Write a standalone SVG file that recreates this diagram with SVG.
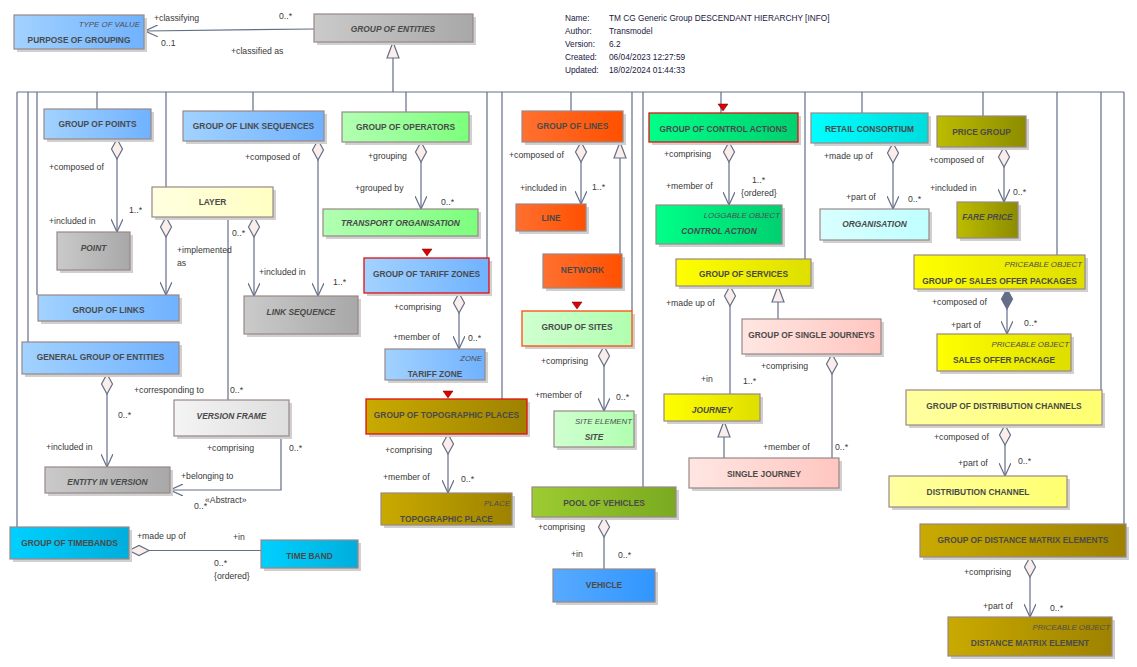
<svg xmlns="http://www.w3.org/2000/svg" xmlns:xlink="http://www.w3.org/1999/xlink" width="1137" height="667" viewBox="0 0 1137 667">
<style>
.bx{stroke:#9a8787;stroke-width:1.2}
.rb{stroke:#e01010;stroke-width:1.3}
.sh{fill:#d0d0d0}
.nm{font-family:"Liberation Sans",Arial,sans-serif;font-size:8.4px;font-weight:bold;fill:#4a4a4a;text-anchor:middle}
.it{font-style:italic}
.st{font-family:"Liberation Sans",Arial,sans-serif;font-size:7.9px;font-style:italic;fill:#4e4e4e;text-anchor:end}
.lb{font-family:"Liberation Sans",Arial,sans-serif;font-size:8.7px;fill:#383838}
.inf{font-family:"Liberation Sans",Arial,sans-serif;font-size:8.3px;fill:#202040}
.ln{stroke:#646e87;stroke-width:1.2;fill:none}
.dia{fill:#fbeeea;stroke:#646e87;stroke-width:1.2}
.fd{fill:#646e87;stroke:#646e87;stroke-width:1.2}
.red{fill:#e00000;stroke:#600;stroke-width:0.5}
</style>
<defs>
<linearGradient id="gBlue" x1="0" x2="1"><stop offset="0" stop-color="#a2d2ff"/><stop offset="1" stop-color="#70b2ff"/></linearGradient>
<linearGradient id="gGray" x1="0" x2="1"><stop offset="0" stop-color="#cacaca"/><stop offset="1" stop-color="#a8a8a8"/></linearGradient>
<linearGradient id="gGreen" x1="0" x2="1"><stop offset="0" stop-color="#b2ffb2"/><stop offset="1" stop-color="#7cff7c"/></linearGradient>
<linearGradient id="gLY" x1="0" x2="1"><stop offset="0" stop-color="#ffffe0"/><stop offset="1" stop-color="#ffffc2"/></linearGradient>
<linearGradient id="gLG" x1="0" x2="1"><stop offset="0" stop-color="#f4f4f4"/><stop offset="1" stop-color="#dedede"/></linearGradient>
<linearGradient id="gCyan" x1="0" x2="1"><stop offset="0" stop-color="#00d0ff"/><stop offset="1" stop-color="#00aedc"/></linearGradient>
<linearGradient id="gGold" x1="0" x2="1"><stop offset="0" stop-color="#c9aa00"/><stop offset="1" stop-color="#9e8200"/></linearGradient>
<linearGradient id="gOr" x1="0" x2="1"><stop offset="0" stop-color="#ff7030"/><stop offset="1" stop-color="#ff5000"/></linearGradient>
<linearGradient id="gSite" x1="0" x2="1"><stop offset="0" stop-color="#d0ffd0"/><stop offset="1" stop-color="#b0ffb0"/></linearGradient>
<linearGradient id="gPool" x1="0" x2="1"><stop offset="0" stop-color="#9ccc30"/><stop offset="1" stop-color="#7aaa20"/></linearGradient>
<linearGradient id="gVeh" x1="0" x2="1"><stop offset="0" stop-color="#58aaff"/><stop offset="1" stop-color="#3096ff"/></linearGradient>
<linearGradient id="gSpr" x1="0" x2="1"><stop offset="0" stop-color="#00ff88"/><stop offset="1" stop-color="#00d070"/></linearGradient>
<linearGradient id="gAqua" x1="0" x2="1"><stop offset="0" stop-color="#00ffff"/><stop offset="1" stop-color="#00dcdc"/></linearGradient>
<linearGradient id="gLC" x1="0" x2="1"><stop offset="0" stop-color="#d8ffff"/><stop offset="1" stop-color="#c0ffff"/></linearGradient>
<linearGradient id="gOlive" x1="0" x2="1"><stop offset="0" stop-color="#bcbc00"/><stop offset="1" stop-color="#8c8c00"/></linearGradient>
<linearGradient id="gYel" x1="0" x2="1"><stop offset="0" stop-color="#ffff00"/><stop offset="1" stop-color="#dede00"/></linearGradient>
<linearGradient id="gPY" x1="0" x2="1"><stop offset="0" stop-color="#ffffa0"/><stop offset="1" stop-color="#ffff70"/></linearGradient>
<linearGradient id="gPink" x1="0" x2="1"><stop offset="0" stop-color="#ffe6e2"/><stop offset="1" stop-color="#ffc6c0"/></linearGradient>
<marker id="arr" viewBox="0 0 14 12" refX="13" refY="6" markerWidth="14" markerHeight="12" markerUnits="userSpaceOnUse" orient="auto"><path d="M0,0 L13,6 L0,12" fill="none" stroke="#646e87" stroke-width="1.2"/></marker>
<path id="dmd" d="M0,0 L5.5,10 L0,20 L-5.5,10 Z"/>
<path id="gen" d="M0,0 L6,16 L-6,16 Z"/>
<path id="rt" d="M-5,0 L5,0 L0,7 Z"/>
</defs>
<rect width="1137" height="667" fill="#ffffff"/>

<g id="info">
<text class="inf" x="565" y="21">Name:</text><text class="inf" x="609" y="21">TM CG Generic Group DESCENDANT HIERARCHY [INFO]</text>
<text class="inf" x="565" y="34">Author:</text><text class="inf" x="609" y="34">Transmodel</text>
<text class="inf" x="565" y="47">Version:</text><text class="inf" x="609" y="47">6.2</text>
<text class="inf" x="565" y="60">Created:</text><text class="inf" x="609" y="60">06/04/2023 12:27:59</text>
<text class="inf" x="565" y="73">Updated:</text><text class="inf" x="609" y="73">18/02/2024 01:44:33</text>
</g>

<g id="connectors">
<path class="ln" d="M17,92 H1124"/>
<path class="ln" d="M17,92 V527 M28,92 V342 M37,92 V295 M97,92 V109 M166,92 V187 M253,92 V111 M393,58 V92 M406,92 V112 M487,92 V258 M502,92 V399 M571,92 V111 M632,92 V311 M643,92 V487 M721,92 V113 M805,92 V259 M862,92 V113 M983,92 V116 M1057,92 V255 M1101,92 V390 M1124,92 V524"/>
<use href="#gen" x="393" y="42" class="dia"/>
<path class="ln" d="M620,158 V254"/><use href="#gen" x="620" y="142" class="dia"/>
<path class="ln" d="M778,302 V319"/><use href="#gen" x="778" y="286" class="dia"/>
<path class="ln" d="M724,437 V458"/><use href="#gen" x="724" y="421" class="dia"/>
<path class="ln" d="M314,29 L145,31" marker-end="url(#arr)"/>
<path class="ln" d="M117,159 V232" marker-end="url(#arr)"/><use href="#dmd" x="117" y="139" class="dia"/>
<path class="ln" d="M318,160 V296" marker-end="url(#arr)"/><use href="#dmd" x="318" y="140" class="dia"/>
<path class="ln" d="M421,162 V209" marker-end="url(#arr)"/><use href="#dmd" x="421" y="142" class="dia"/>
<path class="ln" d="M166,237 V295" marker-end="url(#arr)"/><use href="#dmd" x="166" y="217" class="dia"/>
<path class="ln" d="M254,237 V296" marker-end="url(#arr)"/><use href="#dmd" x="254" y="217" class="dia"/>
<path class="ln" d="M228,217 V400"/>
<path class="ln" d="M107,394 V467" marker-end="url(#arr)"/><use href="#dmd" x="107" y="374" class="dia"/>
<path class="ln" d="M281,436 V490 H170" marker-end="url(#arr)"/>
<path class="ln" d="M149,550.5 H261"/><path class="dia" d="M129,550.5 L139,545.5 L149,550.5 L139,555.5 Z"/>
<path class="ln" d="M459,313 V349" marker-end="url(#arr)"/><use href="#dmd" x="459" y="293" class="dia"/>
<path class="ln" d="M448,454 V493" marker-end="url(#arr)"/><use href="#dmd" x="448" y="434" class="dia"/>
<path class="ln" d="M581,162 V204" marker-end="url(#arr)"/><use href="#dmd" x="581" y="142" class="dia"/>
<path class="ln" d="M604,366 V411" marker-end="url(#arr)"/><use href="#dmd" x="604" y="346" class="dia"/>
<path class="ln" d="M604,537 V569"/><use href="#dmd" x="604" y="517" class="dia"/>
<path class="ln" d="M729,162 V205" marker-end="url(#arr)"/><use href="#dmd" x="729" y="142" class="dia"/>
<path class="ln" d="M893,163 V209" marker-end="url(#arr)"/><use href="#dmd" x="893" y="143" class="dia"/>
<path class="ln" d="M1004,167 V202" marker-end="url(#arr)"/><use href="#dmd" x="1004" y="147" class="dia"/>
<path class="ln" d="M1007,309 V334" marker-end="url(#arr)"/><use href="#dmd" x="1007" y="289" class="fd"/>
<path class="ln" d="M1005,445 V476" marker-end="url(#arr)"/><use href="#dmd" x="1005" y="425" class="dia"/>
<path class="ln" d="M1030,577 V617" marker-end="url(#arr)"/><use href="#dmd" x="1030" y="557" class="dia"/>
<path class="ln" d="M730,306 V394"/><use href="#dmd" x="730" y="286" class="dia"/>
<path class="ln" d="M832,374 V458"/><use href="#dmd" x="832" y="354" class="dia"/>
<use href="#rt" x="723" y="104" class="red"/>
<use href="#rt" x="427" y="249" class="red"/>
<use href="#rt" x="448" y="391" class="red"/>
<use href="#rt" x="577" y="302" class="red"/>
</g>

<g id="labels">
<text class="lb" x="154" y="21">+classifying</text>
<text class="lb" x="161" y="46">0..1</text>
<text class="lb" x="279" y="19">0..*</text>
<text class="lb" x="231" y="54">+classified as</text>
<text class="lb" x="49" y="170">+composed of</text>
<text class="lb" x="49" y="224">+included in</text>
<text class="lb" x="129" y="213">1..*</text>
<text class="lb" x="245" y="160">+composed of</text>
<text class="lb" x="368" y="159">+grouping</text>
<text class="lb" x="355" y="191">+grouped by</text>
<text class="lb" x="441" y="205">0..*</text>
<text class="lb" x="232" y="236">0..*</text>
<text class="lb" x="177" y="253">+implemented</text>
<text class="lb" x="177" y="266">as</text>
<text class="lb" x="259" y="275">+included in</text>
<text class="lb" x="333" y="285">1..*</text>
<text class="lb" x="134" y="393">+corresponding to</text>
<text class="lb" x="230" y="393">0..*</text>
<text class="lb" x="118" y="418">0..*</text>
<text class="lb" x="46" y="450">+included in</text>
<text class="lb" x="207" y="451">+comprising</text>
<text class="lb" x="289" y="451">0..*</text>
<text class="lb" x="181" y="479">+belonging to</text>
<text class="lb" x="205" y="503">«Abstract»</text>
<text class="lb" x="194" y="509">0..*</text>
<text class="lb" x="137" y="539">+made up of</text>
<text class="lb" x="233" y="540">+in</text>
<text class="lb" x="214" y="566">0..*</text>
<text class="lb" x="214" y="579">{ordered}</text>
<text class="lb" x="394" y="310">+comprising</text>
<text class="lb" x="393" y="340">+member of</text>
<text class="lb" x="468" y="341">0..*</text>
<text class="lb" x="385" y="453">+comprising</text>
<text class="lb" x="383" y="480">+member of</text>
<text class="lb" x="461" y="482">0..*</text>
<text class="lb" x="509" y="158">+composed of</text>
<text class="lb" x="520" y="191">+included in</text>
<text class="lb" x="592" y="190">1..*</text>
<text class="lb" x="541" y="364">+comprising</text>
<text class="lb" x="535" y="398">+member of</text>
<text class="lb" x="616" y="400">0..*</text>
<text class="lb" x="538" y="530">+comprising</text>
<text class="lb" x="571" y="557">+in</text>
<text class="lb" x="618" y="558">0..*</text>
<text class="lb" x="664" y="157">+comprising</text>
<text class="lb" x="666" y="189">+member of</text>
<text class="lb" x="752" y="183">1..*</text>
<text class="lb" x="741" y="196">{ordered}</text>
<text class="lb" x="666" y="306">+made up of</text>
<text class="lb" x="701" y="382">+in</text>
<text class="lb" x="743" y="384">1..*</text>
<text class="lb" x="761" y="369">+comprising</text>
<text class="lb" x="763" y="450">+member of</text>
<text class="lb" x="835" y="450">0..*</text>
<text class="lb" x="824" y="159">+made up of</text>
<text class="lb" x="846" y="200">+part of</text>
<text class="lb" x="908" y="202">0..*</text>
<text class="lb" x="929" y="163">+composed of</text>
<text class="lb" x="930" y="191">+included in</text>
<text class="lb" x="1013" y="195">0..*</text>
<text class="lb" x="932" y="305">+composed of</text>
<text class="lb" x="951" y="328">+part of</text>
<text class="lb" x="1024" y="326">0..*</text>
<text class="lb" x="934" y="440">+composed of</text>
<text class="lb" x="958" y="466">+part of</text>
<text class="lb" x="1018" y="464">0..*</text>
<text class="lb" x="964" y="575">+comprising</text>
<text class="lb" x="983" y="609">+part of</text>
<text class="lb" x="1050" y="611">0..*</text>
</g>

<g id="n-purpose"><rect class="sh" x="17" y="18" width="130" height="34"/><rect class="bx" x="14" y="15" width="130" height="34" fill="url(#gBlue)"/><text class="st" x="140" y="27">TYPE OF VALUE</text><text class="nm" x="79" y="43">PURPOSE OF GROUPING</text></g>
<g id="n-group-of-entities"><rect class="sh" x="317" y="17" width="159" height="28"/><rect class="bx" x="314" y="14" width="159" height="28" fill="url(#gGray)"/><text class="nm it" x="393" y="32">GROUP OF ENTITIES</text></g>
<g id="n-group-of-points"><rect class="sh" x="47" y="112" width="107" height="30"/><rect class="bx" x="44" y="109" width="107" height="30" fill="url(#gBlue)"/><text class="nm" x="97.5" y="127">GROUP OF POINTS</text></g>
<g id="n-group-of-link-sequences"><rect class="sh" x="186" y="114" width="141" height="30"/><rect class="bx" x="183" y="111" width="141" height="30" fill="url(#gBlue)"/><text class="nm" x="253.5" y="129">GROUP OF LINK SEQUENCES</text></g>
<g id="n-group-of-operators"><rect class="sh" x="345" y="115" width="127" height="30"/><rect class="bx" x="342" y="112" width="127" height="30" fill="url(#gGreen)"/><text class="nm" x="405.5" y="130">GROUP OF OPERATORS</text></g>
<g id="n-transport-organisation"><rect class="sh" x="326" y="212" width="155" height="27"/><rect class="bx" x="323" y="209" width="155" height="27" fill="url(#gGreen)"/><text class="nm it" x="400.5" y="226">TRANSPORT ORGANISATION</text></g>
<g id="n-layer"><rect class="sh" x="155" y="190" width="121" height="30"/><rect class="bx" x="152" y="187" width="121" height="30" fill="url(#gLY)"/><text class="nm" x="212.5" y="205">LAYER</text></g>
<g id="n-point"><rect class="sh" x="60" y="235" width="73" height="38"/><rect class="bx" x="57" y="232" width="73" height="38" fill="url(#gGray)"/><text class="nm it" x="93.5" y="251">POINT</text></g>
<g id="n-group-of-links"><rect class="sh" x="41" y="298" width="141" height="26"/><rect class="bx" x="38" y="295" width="141" height="26" fill="url(#gBlue)"/><text class="nm" x="108.5" y="313">GROUP OF LINKS</text></g>
<g id="n-link-sequence"><rect class="sh" x="247" y="299" width="114" height="38"/><rect class="bx" x="244" y="296" width="114" height="38" fill="url(#gGray)"/><text class="nm it" x="301" y="315">LINK SEQUENCE</text></g>
<g id="n-general-group-of-entities"><rect class="sh" x="25" y="345" width="157" height="32"/><rect class="bx" x="22" y="342" width="157" height="32" fill="url(#gBlue)"/><text class="nm" x="100.5" y="360">GENERAL GROUP OF ENTITIES</text></g>
<g id="n-version-frame"><rect class="sh" x="177" y="403" width="115" height="36"/><rect class="bx" x="174" y="400" width="115" height="36" fill="url(#gLG)"/><text class="nm it" x="231.5" y="419">VERSION FRAME</text></g>
<g id="n-entity-in-version"><rect class="sh" x="48" y="470" width="125" height="26"/><rect class="bx" x="45" y="467" width="125" height="26" fill="url(#gGray)"/><text class="nm it" x="107.5" y="485">ENTITY IN VERSION</text></g>
<g id="n-group-of-timebands"><rect class="sh" x="13" y="530" width="119" height="32"/><rect class="bx" x="10" y="527" width="119" height="32" fill="url(#gCyan)"/><text class="nm" x="69.5" y="546">GROUP OF TIMEBANDS</text></g>
<g id="n-time-band"><rect class="sh" x="264" y="543" width="97" height="28"/><rect class="bx" x="261" y="540" width="97" height="28" fill="url(#gCyan)"/><text class="nm" x="309.5" y="559">TIME BAND</text></g>
<g id="n-group-of-tariff-zones"><rect class="sh" x="367" y="261" width="125" height="35"/><rect class="rb" x="364" y="258" width="125" height="35" fill="url(#gBlue)"/><text class="nm" x="426.5" y="277">GROUP OF TARIFF ZONES</text></g>
<g id="n-tariff-zone"><rect class="sh" x="388" y="352" width="100" height="31"/><rect class="bx" x="385" y="349" width="100" height="31" fill="url(#gBlue)"/><text class="st" x="482" y="361">ZONE</text><text class="nm" x="435" y="377">TARIFF ZONE</text></g>
<g id="n-group-of-topographic-places"><rect class="sh" x="369" y="402" width="161" height="35"/><rect class="rb" x="366" y="399" width="161" height="35" fill="url(#gGold)"/><text class="nm" x="446.5" y="418">GROUP OF TOPOGRAPHIC PLACES</text></g>
<g id="n-topographic-place"><rect class="sh" x="384" y="496" width="131" height="32"/><rect class="bx" x="381" y="493" width="131" height="32" fill="url(#gGold)"/><text class="st" x="510" y="506">PLACE</text><text class="nm" x="446.5" y="522">TOPOGRAPHIC PLACE</text></g>
<g id="n-group-of-lines"><rect class="sh" x="525" y="114" width="101" height="31"/><rect class="bx" x="522" y="111" width="101" height="31" fill="url(#gOr)"/><text class="nm" x="572.5" y="129">GROUP OF LINES</text></g>
<g id="n-line"><rect class="sh" x="519" y="207" width="70" height="27"/><rect class="bx" x="516" y="204" width="70" height="27" fill="url(#gOr)"/><text class="nm" x="551" y="221">LINE</text></g>
<g id="n-network"><rect class="sh" x="546" y="257" width="79" height="34"/><rect class="bx" x="543" y="254" width="79" height="34" fill="url(#gOr)"/><text class="nm" x="582.5" y="273">NETWORK</text></g>
<g id="n-group-of-sites"><rect class="sh" x="525" y="314" width="110" height="35"/><rect x="522" y="311" width="110" height="35" fill="url(#gSite)" stroke="#ff4a10" stroke-width="1.3"/><text class="nm" x="577" y="330">GROUP OF SITES</text></g>
<g id="n-site"><rect class="sh" x="557" y="414" width="80" height="36"/><rect class="bx" x="554" y="411" width="80" height="36" fill="url(#gSite)"/><text class="st" x="632" y="424">SITE ELEMENT</text><text class="nm it" x="594" y="440">SITE</text></g>
<g id="n-pool-of-vehicles"><rect class="sh" x="535" y="490" width="144" height="30"/><rect class="bx" x="532" y="487" width="144" height="30" fill="url(#gPool)"/><text class="nm" x="604" y="506">POOL OF VEHICLES</text></g>
<g id="n-vehicle"><rect class="sh" x="556" y="572" width="102" height="33"/><rect class="bx" x="553" y="569" width="102" height="33" fill="url(#gVeh)"/><text class="nm" x="604" y="588">VEHICLE</text></g>
<g id="n-group-of-control-actions"><rect class="sh" x="652" y="116" width="149" height="29"/><rect class="rb" x="649" y="113" width="149" height="29" fill="url(#gSpr)"/><text class="nm" x="723.5" y="132">GROUP OF CONTROL ACTIONS</text></g>
<g id="n-control-action"><rect class="sh" x="659" y="208" width="126" height="39"/><rect class="bx" x="656" y="205" width="126" height="39" fill="url(#gSpr)"/><text class="st" x="780" y="218">LOGGABLE OBJECT</text><text class="nm it" x="719" y="234">CONTROL ACTION</text></g>
<g id="n-retail-consortium"><rect class="sh" x="814" y="116" width="117" height="30"/><rect class="bx" x="811" y="113" width="117" height="30" fill="url(#gAqua)"/><text class="nm" x="869.5" y="131.5">RETAIL CONSORTIUM</text></g>
<g id="n-organisation"><rect class="sh" x="823" y="212" width="109" height="31"/><rect class="bx" x="820" y="209" width="109" height="31" fill="url(#gLC)"/><text class="nm it" x="874.5" y="227">ORGANISATION</text></g>
<g id="n-price-group"><rect class="sh" x="940" y="119" width="89" height="31"/><rect class="bx" x="937" y="116" width="89" height="31" fill="url(#gOlive)"/><text class="nm" x="981.5" y="135">PRICE GROUP</text></g>
<g id="n-fare-price"><rect class="sh" x="960" y="205" width="61" height="36"/><rect class="bx" x="957" y="202" width="61" height="36" fill="url(#gOlive)"/><text class="nm it" x="987.5" y="220">FARE PRICE</text></g>
<g id="n-group-of-sales-offer-packages"><rect class="sh" x="917" y="258" width="171" height="34"/><rect class="bx" x="914" y="255" width="171" height="34" fill="url(#gYel)"/><text class="st" x="1082" y="267">PRICEABLE OBJECT</text><text class="nm" x="999.5" y="284">GROUP OF SALES OFFER PACKAGES</text></g>
<g id="n-sales-offer-package"><rect class="sh" x="940" y="337" width="134" height="37"/><rect class="bx" x="937" y="334" width="134" height="37" fill="url(#gYel)"/><text class="st" x="1069" y="347">PRICEABLE OBJECT</text><text class="nm" x="1004" y="363">SALES OFFER PACKAGE</text></g>
<g id="n-group-of-distribution-channels"><rect class="sh" x="909" y="393" width="196" height="35"/><rect class="bx" x="906" y="390" width="196" height="35" fill="url(#gPY)"/><text class="nm" x="1004" y="409">GROUP OF DISTRIBUTION CHANNELS</text></g>
<g id="n-distribution-channel"><rect class="sh" x="892" y="479" width="178" height="31"/><rect class="bx" x="889" y="476" width="178" height="31" fill="url(#gPY)"/><text class="nm" x="978" y="495">DISTRIBUTION CHANNEL</text></g>
<g id="n-group-of-distance-matrix-elements"><rect class="sh" x="923" y="527" width="206" height="33"/><rect class="bx" x="920" y="524" width="206" height="33" fill="url(#gGold)"/><text class="nm" x="1023" y="543">GROUP OF DISTANCE MATRIX ELEMENTS</text></g>
<g id="n-distance-matrix-element"><rect class="sh" x="951" y="620" width="164" height="39"/><rect class="bx" x="948" y="617" width="164" height="39" fill="url(#gGold)"/><text class="st" x="1110" y="630">PRICEABLE OBJECT</text><text class="nm" x="1030" y="646">DISTANCE MATRIX ELEMENT</text></g>
<g id="n-group-of-services"><rect class="sh" x="679" y="262" width="135" height="27"/><rect class="bx" x="676" y="259" width="135" height="27" fill="url(#gYel)"/><text class="nm" x="743.5" y="277">GROUP OF SERVICES</text></g>
<g id="n-group-of-single-journeys"><rect class="sh" x="745" y="322" width="139" height="35"/><rect class="bx" x="742" y="319" width="139" height="35" fill="url(#gPink)"/><text class="nm" x="811.5" y="338">GROUP OF SINGLE JOURNEYS</text></g>
<g id="n-journey"><rect class="sh" x="667" y="397" width="96" height="27"/><rect class="bx" x="664" y="394" width="96" height="27" fill="url(#gYel)"/><text class="nm it" x="712" y="413">JOURNEY</text></g>
<g id="n-single-journey"><rect class="sh" x="692" y="461" width="150" height="30"/><rect class="bx" x="689" y="458" width="150" height="30" fill="url(#gPink)"/><text class="nm" x="764" y="477">SINGLE JOURNEY</text></g>
</svg>
